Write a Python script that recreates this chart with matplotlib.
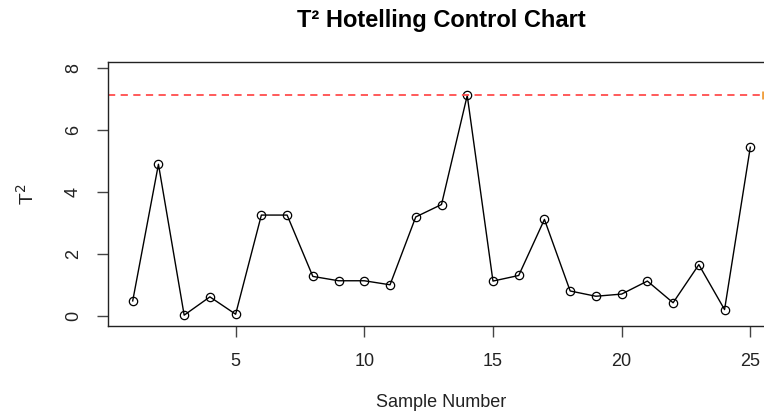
#!/usr/bin/env python3

import matplotlib
matplotlib.use("Agg")
import matplotlib.pyplot as plt
import numpy as np

plt.rcParams['font.family'] = ['Liberation Sans', 'DejaVu Sans']

# T^2 statistic per sample and the upper control limit
samples = np.arange(1, 26)
t2_values = [0.48, 4.89, 0.02, 0.61, 0.05, 3.25, 3.25, 1.27, 1.13, 1.13,
             1.00, 3.19, 3.59, 7.11, 1.12, 1.30, 3.11, 0.80, 0.63, 0.70,
             1.12, 0.42, 1.65, 0.20, 5.44]
ucl = 7.13

x_ticks = [5, 10, 15, 20, 25]
y_ticks = [0, 2, 4, 6, 8]


def plot_t2_chart(filename: str) -> None:
    '''
    Draw the Hotelling T^2 control chart in a base-R look
    '''
    fig = plt.figure(figsize=(7.64, 4.16), dpi=100)
    # axes run past the right edge of the figure on purpose
    ax = fig.add_axes([108 / 764, 1 - 326 / 416, 667 / 764, 264 / 416])

    ax.plot(samples, t2_values, color="black", linewidth=1,
            marker="o", markersize=6, markerfacecolor="none",
            markeredgewidth=0.9, markeredgecolor="black")
    ax.axhline(ucl, color="#ff4d4d", linewidth=1.3, linestyle=(0, (4, 3)))
    # small orange mark where the limit line ends
    ax.plot([25.5], [ucl], marker="|", markersize=6, markeredgewidth=2,
            color="#f0a040")

    ax.set_xlim(0.04, 25.96)
    ax.set_ylim(-0.33, 8.19)
    ax.set_xticks(x_ticks)
    ax.set_yticks(y_ticks)

    for spine in ax.spines.values():
        spine.set_color("#222222")
        spine.set_linewidth(1)

    ax.tick_params(axis="both", direction="out", length=7.7, width=1,
                   color="#444444", labelsize=13, labelcolor="#222222")
    ax.tick_params(axis="x", pad=11.5)
    ax.tick_params(axis="y", pad=11, labelrotation=90)
    for label in ax.get_yticklabels():
        label.set_va("center")

    ax.set_xlabel("Sample Number", fontsize=13, color="#222222")
    ax.xaxis.set_label_coords(0.5, -0.258)
    ax.set_ylabel("T$^2$", fontsize=14, color="#222222")
    ax.yaxis.set_label_coords(-0.105, 0.5)

    fig.text(441.5 / 764, 1 - 27 / 416, "T² Hotelling Control Chart",
             fontsize=17, fontweight="bold", ha="center", va="baseline")

    fig.savefig(filename, dpi=100)


def main():
    plot_t2_chart("out.png")


if __name__ == '__main__':
    main()
